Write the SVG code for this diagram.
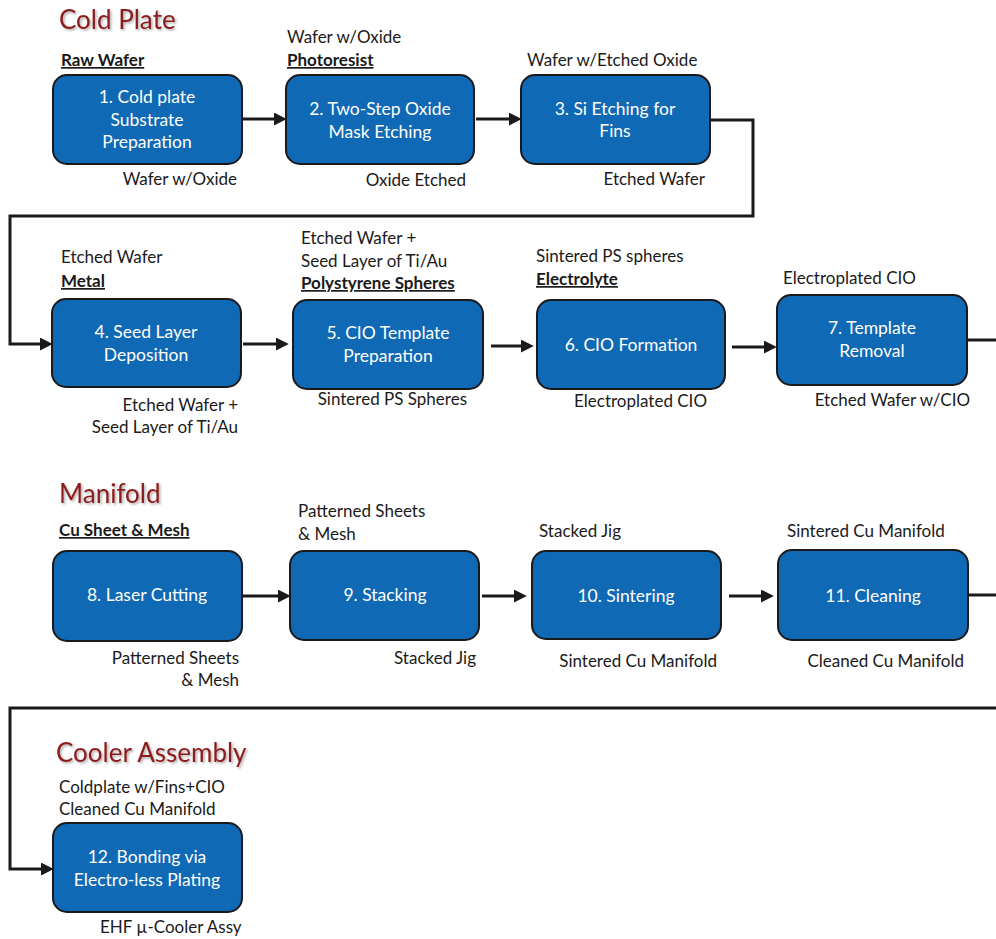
<svg xmlns="http://www.w3.org/2000/svg" width="996" height="939" viewBox="0 0 996 939">
<defs>
<marker id="ah" viewBox="0 0 12 12" refX="2" refY="6" markerWidth="13" markerHeight="13" markerUnits="userSpaceOnUse" orient="auto">
<path d="M0,0 L12,6 L0,12 z" fill="#1a1a1a"/>
</marker>
<filter id="sh" x="-10%" y="-30%" width="130%" height="160%">
<feDropShadow dx="1.5" dy="1.5" stdDeviation="1" flood-color="#000" flood-opacity="0.35"/>
</filter>
<style>
.box{fill:#0f69b4;stroke:#1a1a1a;stroke-width:2}
.bt{font-family:Lato,"Liberation Sans",sans-serif;font-size:17.5px;fill:#fff;text-anchor:middle}
.lb{font-family:Lato,"Liberation Sans",sans-serif;font-size:17px;fill:#1a1a1a}
.r{text-anchor:end}
.b{font-weight:bold;text-decoration:underline}
.ti{font-family:Lato,"Liberation Sans",sans-serif;font-size:26px;fill:#8c1c1c;filter:url(#sh)}
.cn{fill:none;stroke:#1a1a1a;stroke-width:3}
</style>
</defs>
<rect width="996" height="939" fill="#fff"/>

<text class="ti" x="59" y="29">Cold Plate</text>
<text class="ti" x="59" y="503">Manifold</text>
<text class="ti" x="56" y="762">Cooler Assembly</text>

<g id="connectors">
<path class="cn" d="M242,119 H276" marker-end="url(#ah)"/>
<path class="cn" d="M476,119 H511" marker-end="url(#ah)"/>
<path class="cn" d="M710,120 H753 V216 H10 V344 H42" marker-end="url(#ah)"/>
<path class="cn" d="M243,344 H278" marker-end="url(#ah)"/>
<path class="cn" d="M491,346 H523" marker-end="url(#ah)"/>
<path class="cn" d="M732,347 H766" marker-end="url(#ah)"/>
<path class="cn" d="M967,340 H998"/>
<path class="cn" d="M242,596 H280" marker-end="url(#ah)"/>
<path class="cn" d="M482,596 H516" marker-end="url(#ah)"/>
<path class="cn" d="M729,596 H763" marker-end="url(#ah)"/>
<path class="cn" d="M968,595 H998"/>
<path class="cn" d="M998,708 H10 V869 H43" marker-end="url(#ah)"/>
</g>

<g id="n1">
<text class="lb b" x="61" y="66">Raw Wafer</text>
<rect class="box" x="53" y="75" width="189" height="89" rx="14"/>
<text class="bt" x="147" y="103">1. Cold plate</text>
<text class="bt" x="147" y="126">Substrate</text>
<text class="bt" x="147" y="148">Preparation</text>
<text class="lb r" x="237" y="185">Wafer w/Oxide</text>
</g>
<g id="n2">
<text class="lb" x="287" y="43">Wafer w/Oxide</text>
<text class="lb b" x="287" y="66">Photoresist</text>
<rect class="box" x="286" y="75" width="188" height="89" rx="14"/>
<text class="bt" x="380" y="115">2. Two-Step Oxide</text>
<text class="bt" x="380" y="138">Mask Etching</text>
<text class="lb r" x="466" y="186">Oxide Etched</text>
</g>
<g id="n3">
<text class="lb" x="527" y="66">Wafer w/Etched Oxide</text>
<rect class="box" x="521" y="75" width="189" height="89" rx="14"/>
<text class="bt" x="615" y="115">3. Si Etching for</text>
<text class="bt" x="615" y="137">Fins</text>
<text class="lb r" x="705" y="185">Etched Wafer</text>
</g>
<g id="n4">
<text class="lb" x="61" y="263">Etched Wafer</text>
<text class="lb b" x="61" y="287">Metal</text>
<rect class="box" x="52" y="299" width="189" height="88" rx="14"/>
<text class="bt" x="146" y="338">4. Seed Layer</text>
<text class="bt" x="146" y="361">Deposition</text>
<text class="lb r" x="238" y="411">Etched Wafer +</text>
<text class="lb r" x="238" y="433">Seed Layer of Ti/Au</text>
</g>
<g id="n5">
<text class="lb" x="301" y="244">Etched Wafer +</text>
<text class="lb" x="301" y="267">Seed Layer of Ti/Au</text>
<text class="lb b" x="301" y="289">Polystyrene Spheres</text>
<rect class="box" x="293" y="300" width="190" height="89" rx="14"/>
<text class="bt" x="388" y="339">5. CIO Template</text>
<text class="bt" x="388" y="362">Preparation</text>
<text class="lb r" x="467" y="405">Sintered PS Spheres</text>
</g>
<g id="n6">
<text class="lb" x="536" y="262">Sintered PS spheres</text>
<text class="lb b" x="536" y="285">Electrolyte</text>
<rect class="box" x="537" y="300" width="188" height="89" rx="14"/>
<text class="bt" x="631" y="351">6. CIO Formation</text>
<text class="lb r" x="707" y="407">Electroplated CIO</text>
</g>
<g id="n7">
<text class="lb" x="783" y="284">Electroplated CIO</text>
<rect class="box" x="777" y="295" width="190" height="90" rx="14"/>
<text class="bt" x="872" y="334">7. Template</text>
<text class="bt" x="872" y="357">Removal</text>
<text class="lb r" x="970" y="406">Etched Wafer w/CIO</text>
</g>
<g id="n8">
<text class="lb b" x="59" y="536">Cu Sheet &amp; Mesh</text>
<rect class="box" x="53" y="551" width="189" height="90" rx="14"/>
<text class="bt" x="147" y="601">8. Laser Cutting</text>
<text class="lb r" x="239" y="664">Patterned Sheets</text>
<text class="lb r" x="239" y="686">&amp; Mesh</text>
</g>
<g id="n9">
<text class="lb" x="298" y="517">Patterned Sheets</text>
<text class="lb" x="298" y="540">&amp; Mesh</text>
<rect class="box" x="290" y="551" width="189" height="89" rx="14"/>
<text class="bt" x="385" y="601">9. Stacking</text>
<text class="lb r" x="476" y="664">Stacked Jig</text>
</g>
<g id="n10">
<text class="lb" x="539" y="537">Stacked Jig</text>
<rect class="box" x="532" y="551" width="189" height="88" rx="14"/>
<text class="bt" x="626" y="602">10. Sintering</text>
<text class="lb r" x="717" y="667">Sintered Cu Manifold</text>
</g>
<g id="n11">
<text class="lb" x="787" y="537">Sintered Cu Manifold</text>
<rect class="box" x="778" y="550" width="190" height="90" rx="14"/>
<text class="bt" x="873" y="602">11. Cleaning</text>
<text class="lb r" x="964" y="667">Cleaned Cu Manifold</text>
</g>
<g id="n12">
<text class="lb" x="59" y="793">Coldplate w/Fins+CIO</text>
<text class="lb" x="59" y="815">Cleaned Cu Manifold</text>
<rect class="box" x="53" y="823" width="189" height="89" rx="14"/>
<text class="bt" x="147" y="863">12. Bonding via</text>
<text class="bt" x="147" y="886">Electro-less Plating</text>
<text class="lb" x="100" y="933">EHF µ-Cooler Assy</text>
</g>
</svg>
